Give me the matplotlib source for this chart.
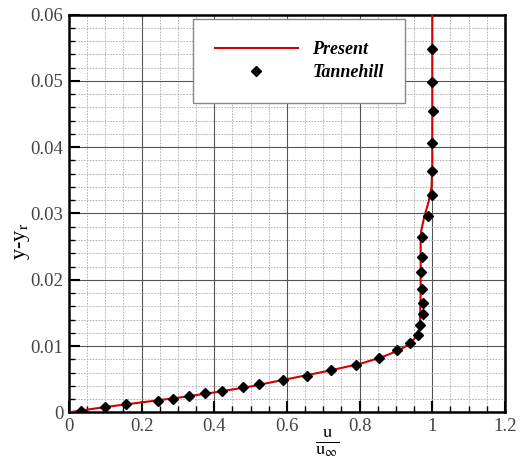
import matplotlib
matplotlib.use('Agg')
import matplotlib.pyplot as plt
from matplotlib.ticker import MultipleLocator

plt.rcParams['font.family'] = ['Liberation Serif', 'DejaVu Serif']
plt.rcParams['mathtext.fontset'] = 'stix'

# present solution (red line)
u_present = [0.0, 0.1, 0.2, 0.3, 0.4, 0.5, 0.6, 0.7, 0.8, 0.86, 0.91, 0.94, 0.958,
             0.966, 0.968, 0.968, 0.970, 0.978, 0.990, 0.998, 1.0, 1.0]
y_present = [0.0, 0.0008, 0.0015, 0.0022, 0.003, 0.0039, 0.005, 0.0061, 0.0073,
             0.0083, 0.0094, 0.0104, 0.0116, 0.013, 0.018, 0.026, 0.0275, 0.0295,
             0.0318, 0.034, 0.037, 0.06]

# Tannehill reference points
u_tann = [0.033, 0.098, 0.157, 0.246, 0.286, 0.330, 0.373, 0.421, 0.478, 0.523,
          0.588, 0.654, 0.722, 0.790, 0.852, 0.903, 0.939, 0.960, 0.967, 0.974,
          0.974, 0.972, 0.970, 0.972, 0.973, 0.989, 1.0, 1.0, 1.0, 1.003, 1.0, 1.0]
y_tann = [0.00024, 0.00085, 0.0012, 0.00175, 0.002, 0.00246, 0.0029, 0.0032, 0.0038,
          0.0042, 0.0049, 0.0055, 0.0064, 0.0071, 0.0082, 0.0094, 0.0104, 0.0117,
          0.0131, 0.0149, 0.0165, 0.0186, 0.0211, 0.0235, 0.0265, 0.0296, 0.0328,
          0.0364, 0.0407, 0.0454, 0.0498, 0.0548]

x_ticks = [0, 0.2, 0.4, 0.6, 0.8, 1.0, 1.2]
x_labels = ['0', '0.2', '0.4', '0.6', '0.8', '1', '1.2']
y_ticks = [0, 0.01, 0.02, 0.03, 0.04, 0.05, 0.06]
y_labels = ['0', '0.01', '0.02', '0.03', '0.04', '0.05', '0.06']

fig = plt.figure(figsize=(5.2, 4.66), dpi=100)
ax = fig.add_axes([0.1327, 0.1152, 0.8383, 0.8533])

ax.plot(u_present, y_present, color='#d40000', lw=1.5, label='Present', zorder=3)
ax.plot(u_tann, y_tann, 'D', color='black', markersize=4.8, label='Tannehill', zorder=4)

ax.set_xlim(0, 1.2)
ax.set_ylim(0, 0.06)
ax.set_xticks(x_ticks)
ax.set_xticklabels(x_labels)
ax.set_yticks(y_ticks)
ax.set_yticklabels(y_labels)
ax.xaxis.set_minor_locator(MultipleLocator(0.05))
ax.yaxis.set_minor_locator(MultipleLocator(0.002))

ax.grid(which='major', color='#555555', lw=0.8, ls='-')
ax.grid(which='minor', color='#aaaaaa', lw=0.6, ls=(0, (2, 1.5)))
ax.set_axisbelow(True)

ax.tick_params(which='major', direction='in', length=8, width=1.5,
               labelsize=13.5, labelcolor='#444444', pad=4)
ax.tick_params(which='minor', direction='in', length=4, width=1)
for s in ax.spines.values():
    s.set_linewidth(1.8)

ax.set_ylabel(r'y-y$_\mathrm{r}$', fontsize=16)
ax.yaxis.set_label_coords(-0.085, 0.43)
ax.text(0.711, -0.0046, r'$\mathrm{\frac{u}{u_{\infty}}}$', fontsize=19,
        ha='center', va='center', transform=ax.transData, clip_on=False)

leg = ax.legend(loc='upper left', bbox_to_anchor=(0.285, 0.988), frameon=True,
                fancybox=False, edgecolor='#888888', framealpha=1,
                handlelength=4.6, handletextpad=0.8, borderpad=1.2,
                labelspacing=0.35, borderaxespad=0,
                prop={'style': 'italic', 'weight': 'bold', 'size': 13})
leg.get_frame().set_linewidth(1.0)

fig.savefig('out.png', dpi=100)
